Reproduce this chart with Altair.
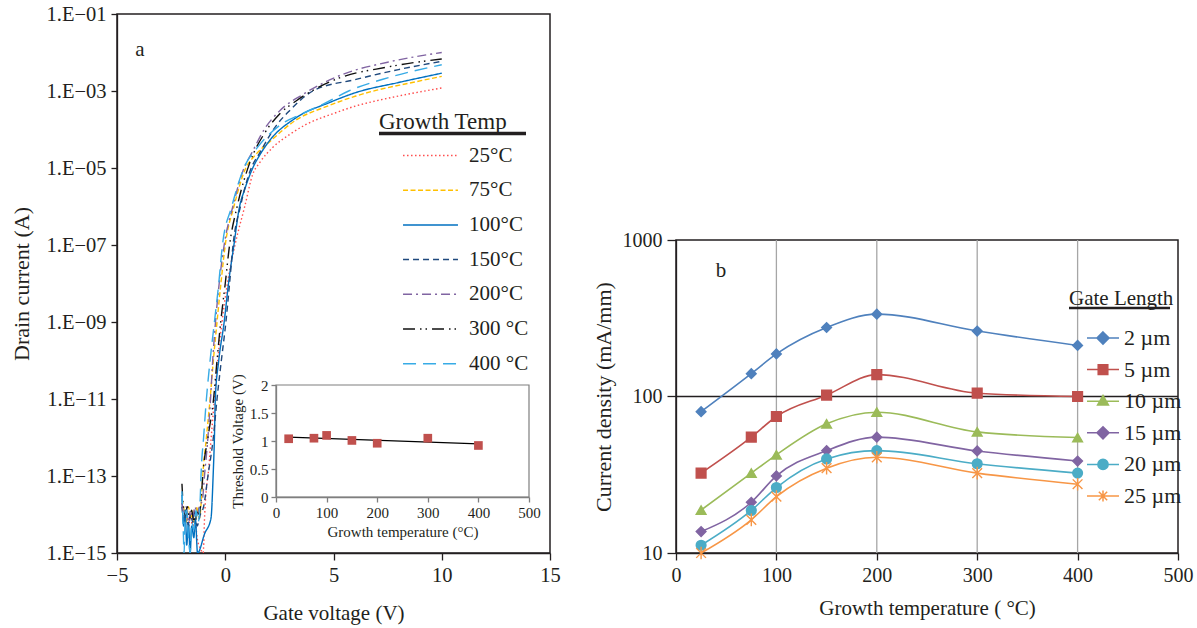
import altair as alt
import pandas as pd

FONT = "Liberation Serif"
INK = "#231F20"

# ---------------- Panel a: transfer curves ----------------
TEMPS = ["25°C", "75°C", "100°C", "150°C", "200°C", "300 °C", "400 °C"]
COLORS_A = ["#FF4D4D", "#FFC000", "#0070C0", "#1F497D", "#8064A2", "#111111", "#37ABE6"]
DASHES_A = [[1.5, 2.5], [5, 2.5], [1, 0], [6, 4], [9, 4, 2, 4], [12, 5, 1.5, 4, 1.5, 5], [13, 7]]

VG_25 = [-2.0, -1.9, -1.8, -1.7, -1.6, -1.5, -1.4, -1.3, -1.15, -1.02, -0.95, -0.85, -0.8, -0.65, -0.5,
         -0.35, -0.15, 0.1, 0.45, 0.9, 1.27, 1.6, 2.19, 3.0, 3.73, 5.0, 6.04, 7.0, 8.0, 9.0, 10.0]
ID_25 = [2.0e-14, 7.9e-15, 1.3e-14, 5.0e-15, 1.0e-14, 4.0e-15, 7.9e-15, 2.5e-15, 1.3e-15, 1.0e-15, 1.0e-14,
         6.3e-14, 1.0e-13, 1.0e-12, 1.0e-11, 1.0e-10, 1.0e-9, 1.0e-8, 1.0e-7, 1.0e-6, 6.9e-6, 1.4e-5,
         3.4e-5, 7.6e-5, 1.35e-4, 2.6e-4, 4.1e-4, 5.6e-4, 7.4e-4, 9.5e-4, 1.2e-3]

VG_75 = [-2.0, -1.9, -1.8, -1.7, -1.6, -1.5, -1.4, -1.3, -1.2, -1.1, -1.04, -0.87, -0.7, -0.55, -0.38,
         -0.2, 0.0, 0.4, 0.95, 1.4, 2.03, 3.26, 4.8, 6.03, 7.0, 8.5, 10.0]
ID_75 = [2.5e-14, 1.3e-14, 6.3e-15, 1.6e-14, 7.9e-15, 1.3e-14, 4.0e-15, 1.6e-14, 7.9e-15, 2.5e-14, 1e-13,
         1e-12, 1e-11, 1e-10, 1e-9, 1e-8, 1e-7, 1e-6, 1e-5, 2.2e-5, 4.7e-5, 1.74e-4, 4.2e-4, 7.4e-4,
         1.05e-3, 1.6e-3, 2.4e-3]

VG_100 = [-2.0, -1.92, -1.85, -1.78, -1.7, -1.62, -1.55, -1.45, -1.38, -1.28, -0.95, -0.66, -0.56, -0.5,
          -0.46, -0.3, -0.05, 0.15, 0.4, 0.65, 0.9, 1.27, 1.6, 2.03, 3.26, 4.81, 6.03, 8.0, 10.0]
ID_100 = [3.2e-14, 5.0e-15, 1.3e-14, 1.6e-15, 6.3e-15, 1.0e-15, 5.0e-15, 2.5e-15, 7.9e-15, 1.0e-15, 3.2e-15,
          7.9e-15, 1e-13, 1e-12, 1e-11, 1e-10, 1e-9, 1e-8, 1e-7, 9.3e-7, 2.8e-6, 1e-5, 2.2e-5, 5.0e-5,
          2.0e-4, 5.0e-4, 9.1e-4, 1.66e-3, 2.9e-3]

VG_150 = [-2.0, -1.9, -1.8, -1.7, -1.6, -1.5, -1.4, -1.3, -1.15, -1.0, -0.8, -0.55, -0.38, -0.18, 0.03,
          0.2, 0.36, 0.7, 1.2, 1.56, 2.34, 3.0, 4.04, 6.04, 8.0, 10.0]
ID_150 = [1.6e-14, 6.3e-15, 1.3e-14, 5.0e-15, 1.0e-14, 6.3e-15, 1.3e-14, 5.0e-15, 1.0e-14, 1.6e-14, 1e-13,
          1e-12, 1e-11, 1e-10, 1e-9, 1e-8, 1e-7, 1e-6, 1e-5, 2.3e-5, 1.23e-4, 3.2e-4, 1.0e-3, 2.0e-3,
          3.6e-3, 5.9e-3]

VG_200 = [-2.0, -1.9, -1.8, -1.7, -1.6, -1.5, -1.4, -1.3, -1.2, -1.05, -0.96, -0.8, -0.68, -0.58, -0.45,
          -0.28, -0.05, 0.35, 0.8, 1.27, 1.8, 2.5, 3.58, 5.42, 7.5, 10.0]
ID_200 = [2.0e-14, 1.0e-14, 1.6e-14, 6.3e-15, 1.3e-14, 7.9e-15, 1.6e-14, 1.0e-14, 1.6e-14, 2.5e-14, 1e-13,
          1e-12, 1e-11, 1e-10, 1e-9, 1e-8, 1e-7, 1e-6, 7.9e-6, 2.75e-5, 1e-4, 3.0e-4, 8.1e-4, 2.7e-3,
          5.6e-3, 1.0e-2]

VG_300 = [-2.0, -1.95, -1.85, -1.75, -1.65, -1.55, -1.45, -1.35, -1.2, -1.1, -1.04, -0.8, -0.54, -0.38,
          -0.21, 0.0, 0.2, 0.55, 1.11, 1.88, 2.5, 3.27, 5.1, 7.5, 10.0]
ID_300 = [6.3e-14, 2.0e-14, 1.0e-14, 1.6e-14, 7.9e-15, 1.3e-14, 6.3e-15, 1.3e-14, 1.0e-14, 3.2e-14, 1e-13,
          1e-12, 1e-11, 1e-10, 1e-9, 1e-8, 1e-7, 1e-6, 1.26e-5, 9.1e-5, 2.5e-4, 5.5e-4, 2.0e-3, 4.2e-3,
          6.8e-3]

VG_400 = [-2.0, -1.95, -1.9, -1.85, -1.78, -1.7, -1.62, -1.55, -1.45, -1.35, -1.25, -1.15, -1.12, -1.0,
          -0.87, -0.7, -0.5, -0.3, -0.13, 0.3, 0.86, 1.5, 2.5, 3.5, 4.5, 5.7, 7.5, 10.0]
ID_400 = [4.0e-14, 6.3e-15, 1.0e-15, 1.0e-14, 1.3e-14, 2.5e-15, 1.0e-15, 6.3e-15, 4.0e-15, 1.3e-14, 6.3e-15,
          3.2e-14, 1e-13, 1e-12, 1e-11, 1e-10, 1e-9, 1e-8, 1e-7, 1e-6, 1e-5, 3.5e-5, 1.26e-4, 2.5e-4,
          4.5e-4, 1.0e-3, 2.2e-3, 4.8e-3]

X_TICKS_A = [-5, 0, 5, 10, 15]
Y_TICKS_A = [1e-1, 1e-3, 1e-5, 1e-7, 1e-9, 1e-11, 1e-13, 1e-15]

# inset: threshold voltage
VT_TEMP = [25, 75, 100, 150, 200, 300, 400]
VT_VAL = [1.04, 1.05, 1.1, 1.01, 0.96, 1.05, 0.92]
TREND_TEMP = [25, 400]
TREND_VAL = [1.07, 0.95]
INSET_X_TICKS = [0, 100, 200, 300, 400, 500]
INSET_Y_TICKS = [0, 0.5, 1, 1.5, 2]

# ---------------- Panel b: current density ----------------
GATE = ["2 µm", "5 µm", "10 µm", "15 µm", "20 µm", "25 µm"]
COLORS_B = ["#4F81BD", "#C0504D", "#9BBB59", "#8064A2", "#4BACC6", "#F79646"]
SHAPES_B = ["diamond", "square", "triangle-up", "diamond", "circle",
            "M-1,-1L1,1M-1,1L1,-1M0,-1.3L0,1.3"]
LEGEND_SHAPES_B = [
    "M-1,0L1,0M0,-0.38L0.38,0L0,0.38L-0.38,0Z",
    "M-1,0L1,0M-0.3,-0.3L0.3,-0.3L0.3,0.3L-0.3,0.3Z",
    "M-1,0L1,0M0,-0.36L0.34,0.24L-0.34,0.24Z",
    "M-1,0L1,0M0,-0.38L0.38,0L0,0.38L-0.38,0Z",
    "M-1,0L1,0M0.32,0A0.32 0.32 0 1 1 -0.32,0A0.32 0.32 0 1 1 0.32,0Z",
    "M-1,0L1,0M-0.26,-0.26L0.26,0.26M-0.26,0.26L0.26,-0.26M0,-0.34L0,0.34",
]
TEMP_B = [25, 75, 100, 150, 200, 300, 400]
J_2 = [80, 140, 187, 276, 336, 262, 212]
J_5 = [32.4, 55, 74.5, 102, 138, 105, 100]
J_10 = [18.8, 32.4, 42.4, 66.9, 79.4, 59.4, 54.7]
J_15 = [13.7, 21.1, 31.1, 45.1, 55, 44.9, 38.7]
J_20 = [11.2, 18.7, 26.2, 39.9, 45.1, 37.2, 32.4]
J_25 = [10.0, 16.3, 22.9, 34.8, 40.9, 32.4, 27.5]
X_TICKS_B = [0, 100, 200, 300, 400, 500]
GRID_X_B = [100, 200, 300, 400]
Y_TICKS_B = [10, 100, 1000]
GRID_Y_B = [100]

# ---------------- build panel a ----------------
rows_a = []
for name, vgs, ids in zip(TEMPS, [VG_25, VG_75, VG_100, VG_150, VG_200, VG_300, VG_400],
                          [ID_25, ID_75, ID_100, ID_150, ID_200, ID_300, ID_400]):
    for i, (v, c) in enumerate(zip(vgs, ids)):
        rows_a.append({"temp": name, "vg": v, "id": c, "i": i})
df_a = pd.DataFrame(rows_a)

legend_a = alt.Legend(
    title=None, orient="none", legendX=295, legendY=123, padding=0,
    symbolType="M-1.57,0L1.57,0", symbolSize=1225, symbolStrokeWidth=1.5,
    labelFont=FONT, labelFontSize=21, labelColor=INK, labelOffset=20, rowPadding=5.7,
)

x_a = alt.X("vg:Q", scale=alt.Scale(domain=[-5, 15], nice=False, zero=False),
            axis=alt.Axis(values=X_TICKS_A, title="Gate voltage (V)", grid=False, labelFlush=False,
                          labelExpr="datum.value < 0 ? '\u2212' + abs(datum.value) : datum.label",
                          tickSize=7, labelPadding=5, titlePadding=17,
                          labelFontSize=20.5, titleFontSize=21))
y_a = alt.Y("id:Q", scale=alt.Scale(type="log", domain=[1e-15, 1e-1], nice=False),
            axis=alt.Axis(values=Y_TICKS_A, title="Drain current (A)", grid=False, labelFlush=False,
                          labelExpr="'1.E\u2212' + (round(-log(datum.value)/LN10) < 10 ? '0' : '') + round(-log(datum.value)/LN10)",
                          tickSize=6, labelPadding=5, titlePadding=13,
                          labelFontSize=20.5, titleFontSize=22))

curves = alt.Chart(df_a).mark_line(strokeWidth=1.4, clip=True, interpolate="monotone").encode(
    x=x_a, y=y_a,
    color=alt.Color("temp:N", scale=alt.Scale(domain=TEMPS, range=COLORS_A), legend=legend_a),
    strokeDash=alt.StrokeDash("temp:N", scale=alt.Scale(domain=TEMPS, range=DASHES_A), legend=legend_a),
    order=alt.Order("i:Q"),
)

# inset
inset_xs = alt.Scale(domain=[0, 500], range=[159, 412], nice=False, zero=False)
inset_ys = alt.Scale(domain=[0, 2], range=[483, 371], nice=False, zero=False)
inset_xax = alt.Axis(orient="bottom", offset=-56, values=INSET_X_TICKS, title="Growth temperature (°C)",
                     grid=False, tickSize=5, labelPadding=3, titlePadding=4, labelFontSize=15,
                     titleFontSize=15, domainColor="#7F7F7F", tickColor="#7F7F7F", zindex=1, format="d",
                     labelFlush=False)
inset_yax = alt.Axis(orient="left", offset=-159, values=INSET_Y_TICKS, title="Threshold Voltage (V)",
                     grid=False, tickSize=5, labelPadding=3, titlePadding=4, labelFontSize=15,
                     titleFontSize=15, domainColor="#7F7F7F", tickColor="#7F7F7F", zindex=1,
                     labelExpr="datum.value + ''", labelFlush=False)

df_vt = pd.DataFrame({"t": VT_TEMP, "v": VT_VAL})
df_tr = pd.DataFrame({"t": TREND_TEMP, "v": TREND_VAL})
df_frame = pd.DataFrame({"t": [INSET_X_TICKS[0]], "t2": [INSET_X_TICKS[-1]],
                         "v": [INSET_Y_TICKS[0]], "v2": [INSET_Y_TICKS[-1]]})

inset_frame = alt.Chart(df_frame).mark_rect(fill="white", stroke="#7F7F7F", strokeWidth=1.2).encode(
    x=alt.X("t:Q", scale=inset_xs, axis=inset_xax), x2="t2:Q",
    y=alt.Y("v:Q", scale=inset_ys, axis=inset_yax), y2="v2:Q")
inset_trend = alt.Chart(df_tr).mark_line(color="black", strokeWidth=1.2).encode(
    x=alt.X("t:Q", scale=inset_xs, axis=inset_xax), y=alt.Y("v:Q", scale=inset_ys, axis=inset_yax))
inset_pts = alt.Chart(df_vt).mark_square(size=75, color="#C0504D", opacity=1).encode(
    x=alt.X("t:Q", scale=inset_xs, axis=inset_xax), y=alt.Y("v:Q", scale=inset_ys, axis=inset_yax))
inset = alt.layer(inset_frame, inset_trend, inset_pts)

one = pd.DataFrame({"s": [""]})
label_a = alt.Chart(pd.DataFrame({"s": ["a"]})).mark_text(
    font=FONT, fontSize=21, color=INK, align="center", baseline="alphabetic").encode(
    text="s:N", x=alt.value(23), y=alt.value(42))
title_a = alt.Chart(pd.DataFrame({"s": ["Growth Temp"]})).mark_text(
    font=FONT, fontSize=23, color=INK, align="left", baseline="alphabetic").encode(
    text="s:N", x=alt.value(262), y=alt.value(115))
uline_a = alt.Chart(one).mark_rule(color=INK, strokeWidth=3.5).encode(
    x=alt.value(262), x2=alt.value(409), y=alt.value(119.5))

panel_a = alt.layer(curves, inset, label_a, title_a, uline_a).resolve_scale(
    x="independent", y="independent"
).properties(width=433, height=539, view=alt.ViewBackground(stroke=INK, strokeWidth=1.5))

# ---------------- build panel b ----------------
rows_b = []
for g, js in zip(GATE, [J_2, J_5, J_10, J_15, J_20, J_25]):
    for t, j in zip(TEMP_B, js):
        rows_b.append({"g": g, "t": t, "j": j})
df_b = pd.DataFrame(rows_b)

x_b = alt.X("t:Q", scale=alt.Scale(domain=[0, 500], nice=False, zero=False),
            axis=alt.Axis(values=X_TICKS_B, format="d", title="Growth temperature ( °C)", grid=False,
                          labelFlush=False, tickSize=7, labelPadding=5, titlePadding=12,
                          labelFontSize=20, titleFontSize=21))
y_b = alt.Y("j:Q", scale=alt.Scale(type="log", domain=[10, 1000], nice=False),
            axis=alt.Axis(values=Y_TICKS_B, format="d", title="Current density (mA/mm)", grid=False,
                          labelFlush=False, tickSize=9, labelPadding=5, titlePadding=7,
                          labelFontSize=20, titleFontSize=22))

legend_b = alt.Legend(
    title=None, orient="none", legendX=410, legendY=81, padding=0,
    symbolSize=1024, symbolStrokeWidth=1.5, symbolOpacity=1,
    labelFont=FONT, labelFontSize=22, labelColor=INK, labelOffset=4, rowPadding=3.6,
)

grid_x = alt.Chart(pd.DataFrame({"t": GRID_X_B})).mark_rule(color="#A6A6A6", strokeWidth=1.3).encode(x=x_b)
grid_y = alt.Chart(pd.DataFrame({"j": GRID_Y_B})).mark_rule(color=INK, strokeWidth=1.3).encode(y=y_b)
lines_b = alt.Chart(df_b).mark_line(interpolate="monotone", strokeWidth=1.6).encode(
    x=x_b, y=y_b, stroke=alt.Stroke("g:N", scale=alt.Scale(domain=GATE, range=COLORS_B), legend=None))
points_b = alt.Chart(df_b).mark_point(filled=True, opacity=1, size=95, strokeWidth=1.4).encode(
    x=x_b, y=y_b,
    fill=alt.Fill("g:N", scale=alt.Scale(domain=GATE, range=COLORS_B), legend=None),
    stroke=alt.Stroke("g:N", scale=alt.Scale(domain=GATE, range=COLORS_B), legend=None),
    shape=alt.Shape("g:N", scale=alt.Scale(domain=GATE, range=SHAPES_B), legend=None),
)
# legend-only layer (no rows drawn), line-through-marker symbols
legend_layer_b = alt.Chart(df_b).transform_filter("false").mark_point(filled=True, opacity=1).encode(
    fill=alt.Fill("g:N", scale=alt.Scale(domain=GATE, range=COLORS_B), legend=legend_b),
    stroke=alt.Stroke("g:N", scale=alt.Scale(domain=GATE, range=COLORS_B), legend=legend_b),
    shape=alt.Shape("g:N", scale=alt.Scale(domain=GATE, range=LEGEND_SHAPES_B), legend=legend_b),
)
label_b = alt.Chart(pd.DataFrame({"s": ["b"]})).mark_text(
    font=FONT, fontSize=21, color=INK, align="center", baseline="alphabetic").encode(
    text="s:N", x=alt.value(45), y=alt.value(37))
title_b = alt.Chart(pd.DataFrame({"s": ["Gate Length"]})).mark_text(
    font=FONT, fontSize=21, color=INK, align="left", baseline="alphabetic").encode(
    text="s:N", x=alt.value(393), y=alt.value(65))
uline_b = alt.Chart(one).mark_rule(color=INK, strokeWidth=2.5).encode(
    x=alt.value(393), x2=alt.value(494), y=alt.value(68))

panel_b = alt.layer(grid_x, grid_y, lines_b, points_b, legend_layer_b, label_b, title_b, uline_b).resolve_scale(
    fill="independent", stroke="independent", shape="independent"
).properties(width=502, height=313, view=alt.ViewBackground(stroke=INK, strokeWidth=1.5))

spacer = alt.Chart(pd.DataFrame({"s": [0]})).mark_point(opacity=0).properties(
    width=60, height=215, view=alt.ViewBackground(stroke=None))

right = alt.vconcat(spacer, panel_b, spacing=0)

chart = alt.hconcat(panel_a, right, spacing=30).properties(
    padding={"left": 9, "top": 3, "right": 0, "bottom": 0}
).configure(font=FONT).configure_axis(
    labelFont=FONT, titleFont=FONT, labelColor=INK, titleColor=INK,
    domainColor=INK, tickColor=INK, titleFontWeight="normal", domainWidth=1.3, tickWidth=1.3,
).configure_legend(labelFont=FONT, labelColor=INK)

chart.save("out.html", embed_options={"renderer": "svg", "actions": False})
